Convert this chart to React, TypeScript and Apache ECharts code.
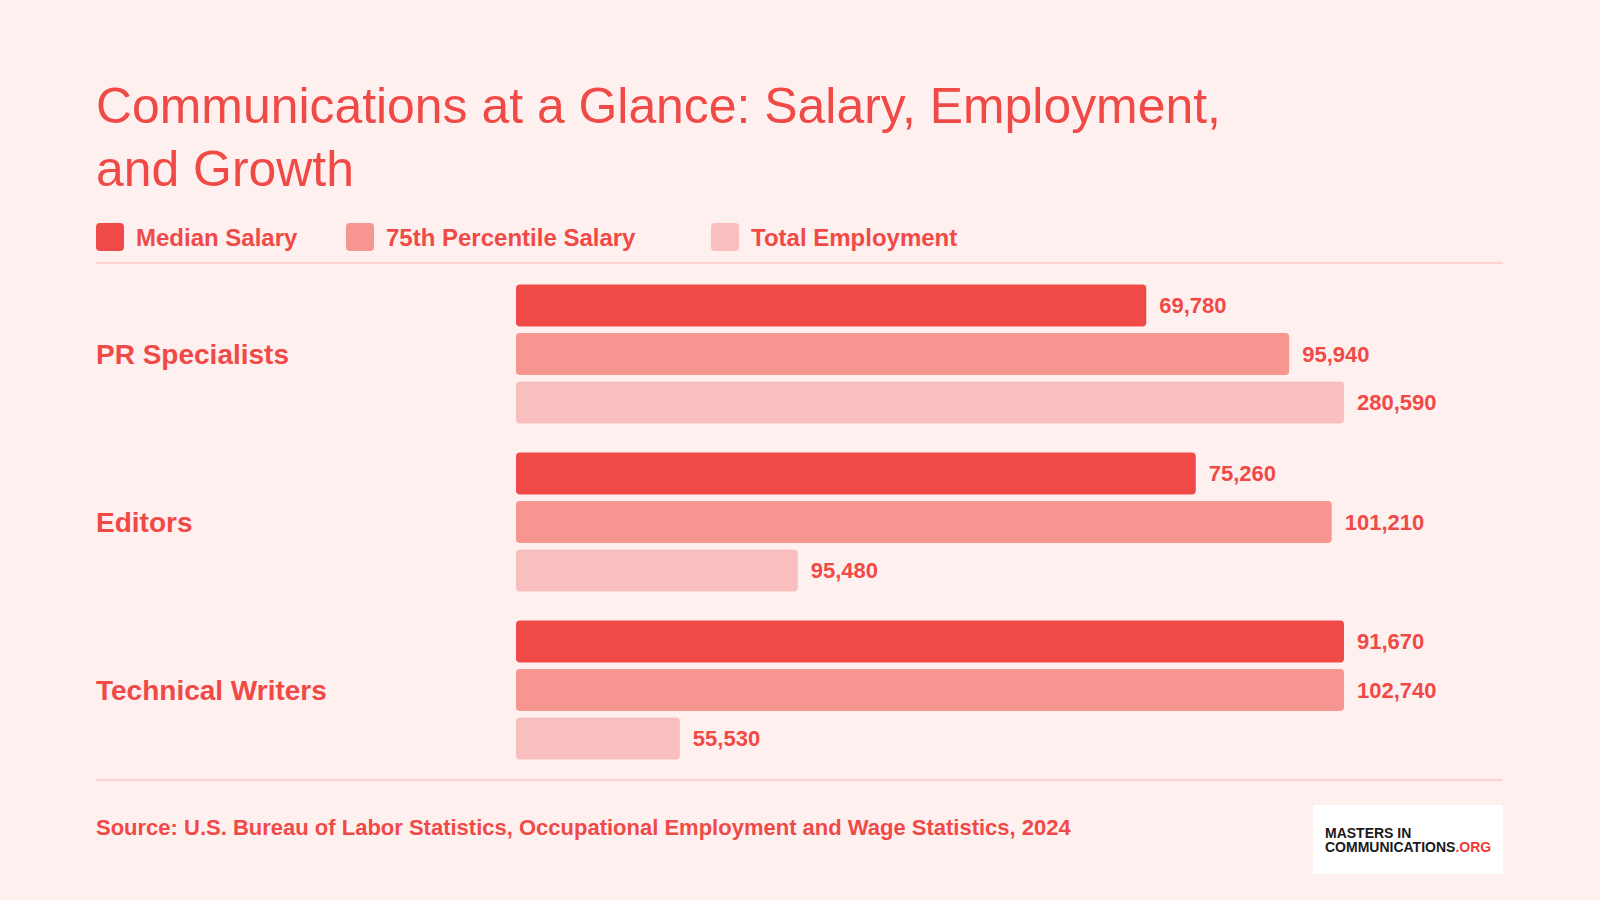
import React, { useEffect, useRef } from "react";
import * as echarts from "echarts";

const categories = ["PR Specialists", "Editors", "Technical Writers"];
const seriesNames = ["Median Salary", "75th Percentile Salary", "Total Employment"];
const medianSalary = [69780, 75260, 91670];
const p75Salary = [95940, 101210, 102740];
const totalEmployment = [280590, 95480, 55530];

const titleText = "Communications at a Glance: Salary, Employment,\nand Growth";
const sourceText =
  "Source: U.S. Bureau of Labor Statistics, Occupational Employment and Wage Statistics, 2024";

const RED = "#f04a47";
const COLORS = ["#f04a47", "#f79591", "#f9bfbe"];
const BG = "#fff0f0";
const LINE = "#fbd3d3";
const FONT = "'Liberation Sans', Arial, Helvetica, sans-serif";

export default function App() {
  const ref = useRef<HTMLDivElement>(null);

  useEffect(() => {
    if (!ref.current) return;
    const chart = echarts.init(ref.current, undefined, { renderer: "svg" });
    const seriesData = [medianSalary, p75Salary, totalEmployment];
    const legendX = [96, 346, 711];

    const legendGraphics: any[] = [];
    seriesNames.forEach((name, i) => {
      legendGraphics.push({
        type: "rect",
        left: legendX[i],
        top: 223,
        shape: { width: 28, height: 28, r: 4 },
        style: { fill: COLORS[i] },
      });
      legendGraphics.push({
        type: "text",
        x: legendX[i] + 40,
        y: 237,
        style: {
          text: name,
          fill: RED,
          font: `bold 24px ${FONT}`,
          verticalAlign: "middle",
          align: "left",
        },
      });
    });

    chart.setOption({
      animation: false,
      backgroundColor: BG,
      title: {
        text: titleText,
        left: 96,
        top: 74,
        padding: 0,
        textStyle: {
          color: RED,
          fontFamily: FONT,
          fontWeight: "normal",
          fontSize: 49.9,
          lineHeight: 63,
        },
      },
      grid: { left: 516, right: 256, top: 270, bottom: 126, containLabel: false },
      xAxis: seriesData.map(() => ({
        type: "value",
        show: false,
        min: 0,
        max: (e: any) => e.max,
        gridIndex: 0,
      })),
      yAxis: {
        type: "category",
        data: categories,
        inverse: true,
        axisLine: { show: false },
        axisTick: { show: false },
        splitLine: { show: false },
        axisLabel: {
          margin: 420,
          align: "left",
          color: RED,
          fontFamily: FONT,
          fontWeight: "bold",
          fontSize: 28,
        },
      },
      series: seriesData.map((d, i) => ({
        name: seriesNames[i],
        type: "bar",
        xAxisIndex: i,
        yAxisIndex: 0,
        data: d,
        barWidth: 42,
        barGap: "15.5%",
        itemStyle: { color: COLORS[i], borderRadius: 4 },
        label: {
          show: true,
          position: "right",
          distance: 13,
          color: RED,
          fontFamily: FONT,
          fontWeight: "bold",
          fontSize: 22,
          formatter: (p: any) => Number(p.value).toLocaleString("en-US"),
        },
      })),
      graphic: [
        ...legendGraphics,
        {
          type: "line",
          shape: { x1: 96, y1: 263, x2: 1503, y2: 263 },
          style: { stroke: LINE, lineWidth: 2 },
        },
        {
          type: "line",
          shape: { x1: 96, y1: 780, x2: 1503, y2: 780 },
          style: { stroke: LINE, lineWidth: 2 },
        },
        {
          type: "text",
          x: 96,
          y: 827,
          style: {
            text: sourceText,
            fill: RED,
            font: `bold 22px ${FONT}`,
            verticalAlign: "middle",
            align: "left",
          },
        },
        {
          type: "rect",
          left: 1313,
          top: 805,
          shape: { width: 190, height: 69 },
          style: { fill: "#ffffff" },
        },
        {
          type: "text",
          x: 1325,
          y: 826,
          style: {
            text: "{a|MASTERS IN}\n{a|COMMUNICATIONS}{b|.ORG}",
            verticalAlign: "top",
            rich: {
              a: { fill: "#1a1a1a", font: `900 14px ${FONT}`, lineHeight: 14 },
              b: { fill: "#ef3b36", font: `bold 14px ${FONT}`, lineHeight: 14 },
            },
          },
        },
      ],
    });

    return () => chart.dispose();
  }, []);

  return (
    <div
      ref={ref}
      style={{ position: "fixed", left: 0, top: 0, width: 1600, height: 900 }}
    />
  );
}
